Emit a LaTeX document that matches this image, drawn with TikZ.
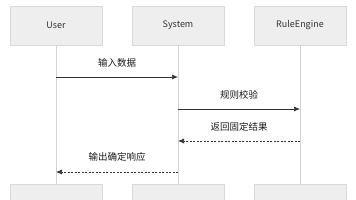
\documentclass[tikz,border=0pt]{standalone}
\usepackage{fontspec}
\setmainfont{Noto Sans CJK SC}
\usetikzlibrary{arrows.meta}
\definecolor{boxfill}{HTML}{EEEEEE}
\definecolor{boxline}{HTML}{D9D9D9}
\definecolor{lifeline}{HTML}{D3D3D3}
\definecolor{msgline}{HTML}{333333}
\begin{document}
\begin{tikzpicture}[x=1pt,y=-1pt,
  actor/.style={draw=boxline,fill=boxfill,minimum width=92pt,minimum height=39pt,inner sep=0pt,font=\fontsize{9}{11}\selectfont,text=black!80},
  life/.style={draw=lifeline,line width=0.9pt},
  msg/.style={draw=msgline,line width=0.7pt,-{Latex[length=6pt,width=5pt]}},
  reply/.style={msg,dashed,dash pattern=on 2pt off 1.5pt},
  msglabel/.style={font=\fontsize{9.5}{11}\selectfont,text=black!90}]
\clip (0,0) rectangle (356,200);
\useasboundingbox (0,0) rectangle (356,200);

% Participants at the top
\node[actor] (user) at (56,25.5) {User};
\node[actor] (sys) at (178,25.5) {System};
\node[actor] (rule) at (300,25.5) {RuleEngine};

% Participants at the bottom (cut by the frame)
\node[actor] (userB) at (56,203.5) {};
\node[actor] (sysB) at (178,203.5) {};
\node[actor] (ruleB) at (300,203.5) {};

% Lifelines
\draw[life] (user) -- (userB);
\draw[life] (sys) -- (sysB);
\draw[life] (rule) -- (ruleB);

% Points on the lifelines
\coordinate (u1) at (56,77);
\coordinate (s1) at (178,77);
\coordinate (s2) at (178,109);
\coordinate (r2) at (300,109);
\coordinate (r3) at (300,141);
\coordinate (s3) at (178,141);
\coordinate (s4) at (178,172);
\coordinate (u4) at (56,172);

% Messages
\draw[msg] (u1) -- (s1) node[msglabel,midway,above=6.5pt] {输入数据};
\draw[msg] (s2) -- (r2) node[msglabel,midway,above=6.5pt] {规则校验};
\draw[reply] (r3) -- (s3) node[msglabel,midway,above=6.5pt] {返回固定结果};
\draw[reply] (s4) -- (u4) node[msglabel,midway,above=6.5pt] {输出确定响应};
\end{tikzpicture}
\end{document}
